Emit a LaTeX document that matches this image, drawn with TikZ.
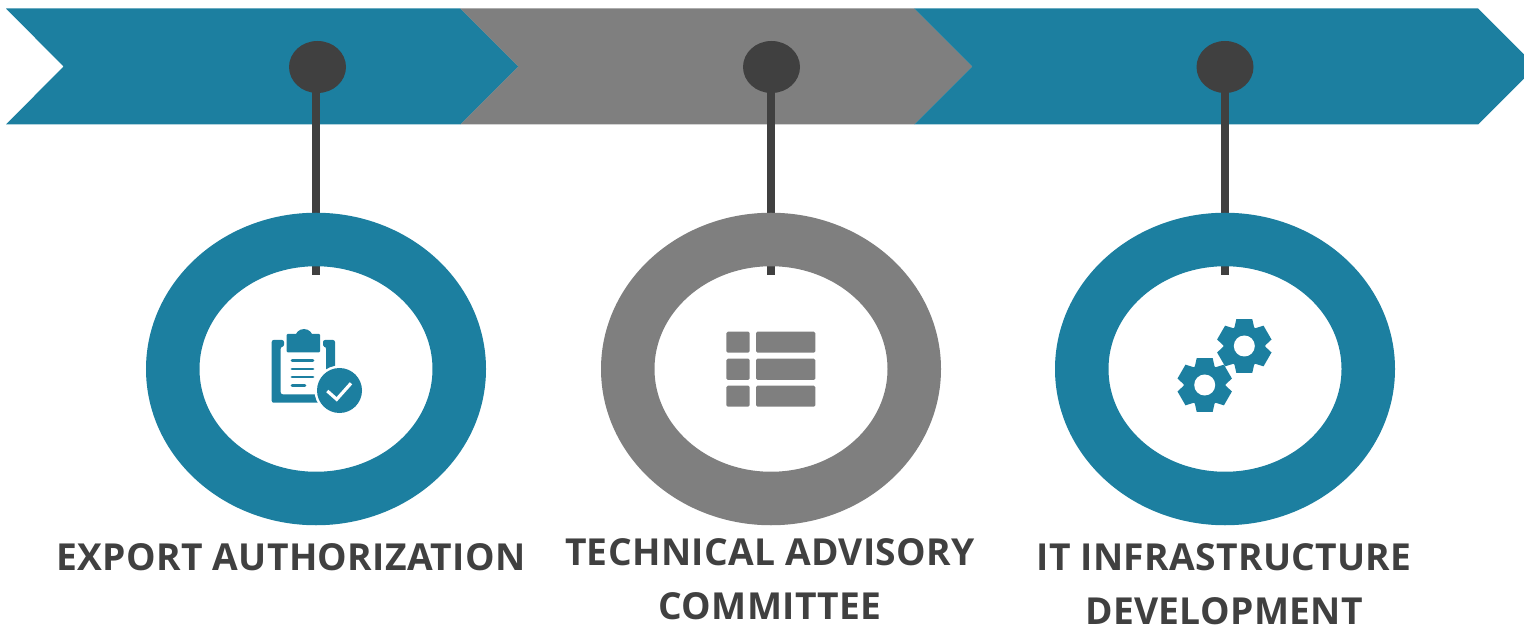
\documentclass[tikz,border=0pt]{standalone}
\usepackage{fontspec}
\setmainfont[LetterSpace=0.9]{Open Sans}
\usetikzlibrary{shapes.geometric,backgrounds}
\definecolor{tealc}{HTML}{1C7FA0}
\definecolor{greyc}{HTML}{7F7F7F}
\definecolor{darkc}{HTML}{404040}
\tikzset{
  x=1pt,y=-1pt,
  ringnode/.style={ellipse,draw=#1,line width=53.5pt,minimum width=286.5pt,minimum height=259pt,inner sep=0pt,outer sep=0pt,fill=none},
  dotnode/.style={ellipse,fill=darkc,minimum width=57pt,minimum height=52pt,inner sep=0pt,outer sep=0pt},
  stem/.style={draw=darkc,line width=8pt},
  lbl/.style={text=darkc,font=\fontsize{37.2}{54}\selectfont\bfseries,align=center,inner sep=0pt},
  gearicon/.pic={
    \fill[tealc] (0,0) circle (21);
    \foreach \a in {90,30,-30,-90,-150,150}{
      \fill[tealc,rotate=\a] (18,-10) -- (26.8,-8) -- (26.8,8) -- (18,10) -- cycle;
    }
    \fill[white] (0,0) circle (10.5);
  }
}
\begin{document}
\begin{tikzpicture}
\useasboundingbox (0,0) rectangle (1524,628);
% rings and dots
\node[ringnode=tealc] (r1) at (316,369) {};
\node[ringnode=greyc] (r2) at (771,369) {};
\node[ringnode=tealc] (r3) at (1225,369) {};
\node[dotnode] (d1) at (317.5,67) {};
\node[dotnode] (d2) at (771.5,67) {};
\node[dotnode] (d3) at (1225,67) {};
\coordinate (e1) at (316,275.5);
\coordinate (e2) at (771,275.5);
\coordinate (e3) at (1225,275.5);
\begin{scope}[on background layer]
  \clip (0,0) rectangle (1524,628);
  \fill[tealc] (914,8.5) -- (1478,8.5) -- (1536,66.5) -- (1478,124.5) -- (914,124.5) -- (972,66.5) -- cycle;
  \fill[greyc] (460,8.5) -- (914,8.5) -- (972,66.5) -- (914,124.5) -- (460,124.5) -- (518,66.5) -- cycle;
  \fill[tealc] (6,8.5) -- (460,8.5) -- (518,66.5) -- (460,124.5) -- (6,124.5) -- (63.5,66.5) -- cycle;
  \draw[stem] (d1.center -| e1) -- (e1);
  \draw[stem] (d2.center -| e2) -- (e2);
  \draw[stem] (d3.center -| e3) -- (e3);
\end{scope}
% clipboard icon
\fill[tealc,rounded corners=2pt] (271.7,340) -- (284,340) -- (284,346.7) -- (280.7,346.7) -- (280.7,394.3) -- (326,394.3) -- (326,346.7) -- (323,346.7) -- (323,340) -- (335,340) -- (335,402.7) -- (271.7,402.7) -- cycle;
\fill[tealc] (304,338) circle (9);
\fill[tealc,rounded corners=1pt] (286.7,334) rectangle (320,352.3);
\foreach \yy/\xx in {360.3/313,369/313,377/313,385.3/305}{
  \draw[tealc,line width=2.7pt,line cap=round] (292,\yy) -- (\xx,\yy);
}
\fill[white] (339.5,390.5) circle (25);
\fill[tealc] (339.5,390.5) circle (22.5);
\draw[white,line width=3.2pt] (327.3,391) -- (336.7,399.3) -- (351,383.3);
% table icon
\foreach \ya/\yb in {331.7/352.7,358.7/380,385.7/406.7}{
  \fill[greyc,rounded corners=1.5pt] (726.3,\ya) rectangle (749.7,\yb);
  \fill[greyc,rounded corners=1.5pt] (756,\ya) rectangle (815.3,\yb);
}
% gears
\pic at (1244.3,346) {gearicon};
\pic at (1204.7,385) {gearicon};
% labels
\node[lbl] (t1) at (291,557) {EXPORT AUTHORIZATION};
\node[lbl] (t2) at (770,579) {TECHNICAL ADVISORY\\COMMITTEE};
\node[lbl] (t3) at (1224,584) {IT INFRASTRUCTURE\\DEVELOPMENT};
\end{tikzpicture}
\end{document}
